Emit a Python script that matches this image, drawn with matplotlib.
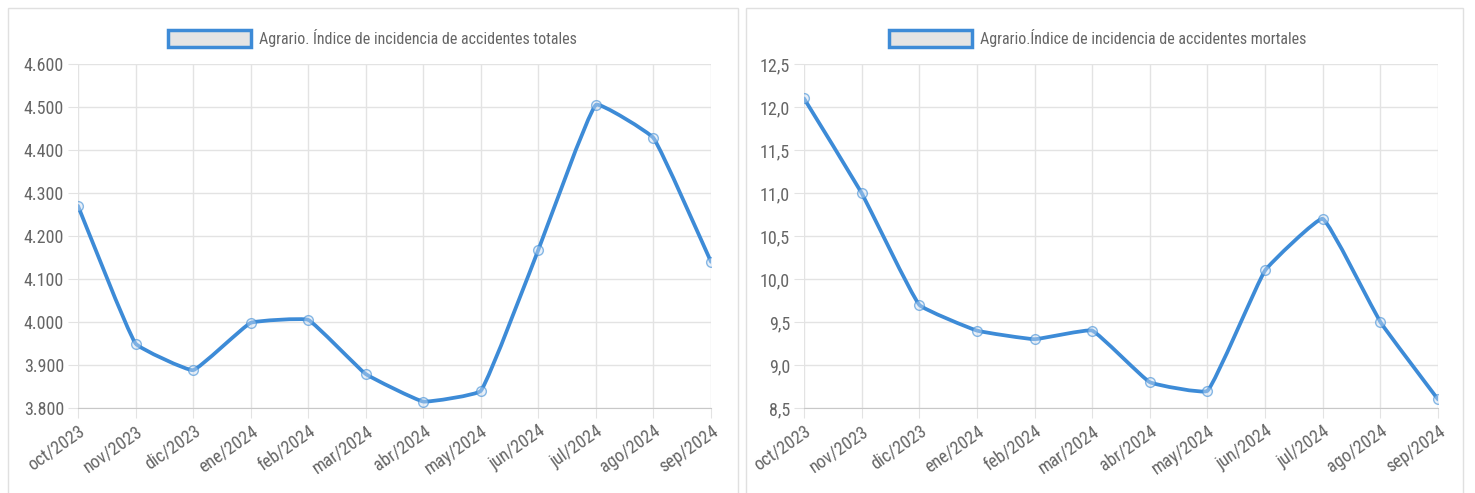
import numpy as np
import matplotlib.pyplot as plt
from matplotlib.path import Path
from matplotlib.patches import PathPatch, Patch, Rectangle
from matplotlib.ticker import FuncFormatter

plt.rcParams['font.family'] = ['Roboto Condensed', 'Liberation Sans Narrow', 'Roboto', 'DejaVu Sans']
plt.rcParams['font.stretch'] = 'condensed'

# data
months = ['oct/2023', 'nov/2023', 'dic/2023', 'ene/2024', 'feb/2024', 'mar/2024',
          'abr/2024', 'may/2024', 'jun/2024', 'jul/2024', 'ago/2024', 'sep/2024']
totales = [4270, 3950, 3888, 3998, 4005, 3879, 3815, 3840, 4168, 4505, 4428, 4140]
mortales = [12.1, 11.0, 9.7, 9.4, 9.3, 9.4, 8.8, 8.7, 10.1, 10.7, 9.5, 8.6]
label_tot = 'Agrario. Índice de incidencia de accidentes totales'
label_mor = 'Agrario.Índice de incidencia de accidentes mortales'

LINE = '#3d8bd7'
GRID = '#e3e3e3'
TXT = '#666666'

W, H = 1475, 493
fig = plt.figure(figsize=(W / 100, H / 100), dpi=100)


def px(x0, y0, x1, y1):
    return [x0 / W, 1 - y1 / H, (x1 - x0) / W, (y1 - y0) / H]


def smooth_line(ax, y, tension=0.1):
    # chart.js style bezier through the points (computed in pixel space)
    x = np.arange(len(y))
    pts = ax.transData.transform(np.column_stack([x, y]))
    n = len(pts)
    verts = [pts[0]]
    codes = [Path.MOVETO]
    cps = []
    for i in range(n):
        prev = pts[max(i - 1, 0)]
        cur = pts[i]
        nxt = pts[min(i + 1, n - 1)]
        d01 = np.hypot(*(cur - prev))
        d12 = np.hypot(*(nxt - cur))
        tot = d01 + d12
        s01 = d01 / tot if tot else 0
        s12 = d12 / tot if tot else 0
        cps.append((cur - tension * s01 * (nxt - prev), cur + tension * s12 * (nxt - prev)))
    for i in range(1, n):
        verts += [cps[i - 1][1], cps[i][0], pts[i]]
        codes += [Path.CURVE4] * 3
    inv = ax.transData.inverted()
    path = Path(inv.transform(np.array(verts)), codes)
    ax.add_patch(PathPatch(path, facecolor='none', edgecolor=LINE, lw=2.7,
                           capstyle='round', joinstyle='round', zorder=3))
    ax.plot(x, y, 'o', ms=7, mfc=(0.8, 0.87, 0.95, 0.45), mec=(0.24, 0.55, 0.84, 0.6),
            mew=1.0, zorder=4)


def setup(ax, ylim, step, fmt):
    ax.set_xlim(0, len(months) - 1)
    ax.set_ylim(*ylim)
    ax.set_yticks(np.arange(ylim[0], ylim[1] + step / 2, step))
    ax.yaxis.set_major_formatter(FuncFormatter(fmt))
    ax.set_xticks(range(len(months)))
    ax.set_xticklabels(months, rotation=35, ha='right', rotation_mode='anchor')
    ax.grid(True, color=GRID, lw=1)
    for s in ['top', 'right', 'left']:
        ax.spines[s].set_visible(False)
    ax.spines['bottom'].set_color('#c8c8c8')
    ax.tick_params(length=7, color=GRID, labelcolor=TXT, labelsize=13, pad=3)
    ax.set_axisbelow(True)


ax1 = fig.add_axes(px(78, 64, 711, 408))
setup(ax1, (3800, 4600), 100, lambda v, p: f'{v / 1000:.3f}')
smooth_line(ax1, totales)

ax2 = fig.add_axes(px(804, 64, 1438, 408))
setup(ax2, (8.5, 12.5), 0.5, lambda v, p: f'{v:.1f}'.replace('.', ','))
smooth_line(ax2, mortales)

# panel borders
for x0, x1 in [(8, 738), (746, 1463)]:
    fig.patches.append(Rectangle((x0 / W, -0.05), (x1 - x0) / W, 1 - 8 / H + 0.05,
                                 transform=fig.transFigure, fill=False,
                                 edgecolor='#e0e0e0', lw=1))

# legends
for cx, lab in [(372, label_tot), (1098, label_mor)]:
    fig.legend(handles=[Patch(facecolor='#e4e4e4', edgecolor=LINE, lw=2.5, label=lab)],
               loc='center', bbox_to_anchor=(cx / W, 1 - 38 / H), frameon=False,
               handlelength=5.2, handleheight=1.3, handletextpad=0.5,
               prop={'size': 11.5}, labelcolor=TXT)

fig.savefig('out.png', dpi=100)
